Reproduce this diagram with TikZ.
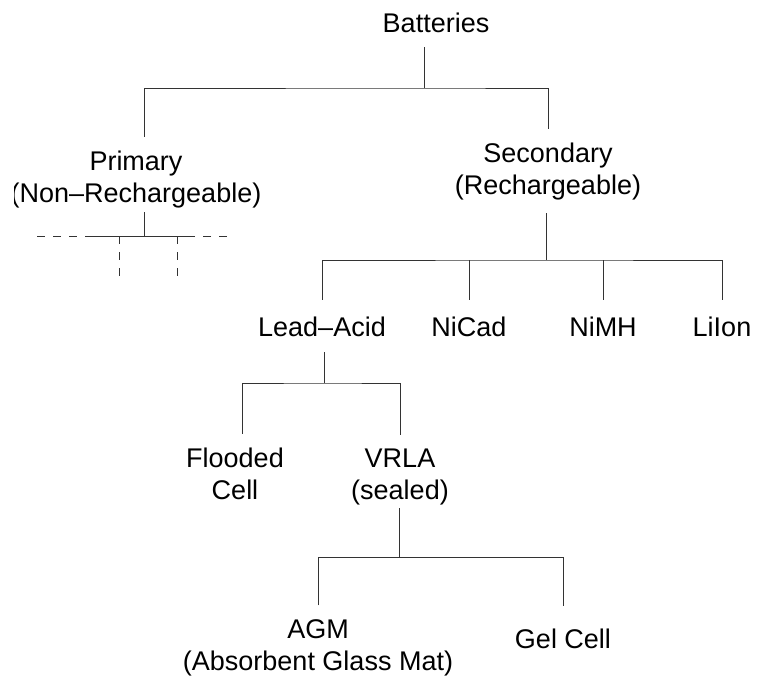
\documentclass[tikz,border=0pt]{standalone}
\usepackage{fontspec}
\setmainfont{Liberation Sans}

\begin{document}
\begin{tikzpicture}[x=1pt,y=-1pt,
    every node/.style={font=\fontsize{27}{32}\selectfont,inner sep=0pt,align=center,text depth=0pt},
    link/.style={draw=black!80,line width=0.9pt},
    faint/.style={link,dash pattern=on 8pt off 8pt}]
    \useasboundingbox (0,0) rectangle (760,678);
    \clip (14,0) rectangle (760,678);

    \node (bat) [anchor=base]  at (436,32)    {Batteries};
    \node (pri) [anchor=south] at (136,203)   {Primary\\(Non--Rechargeable)};
    \node (sec) [anchor=south] at (548,195)   {Secondary\\(Rechargeable)};
    \node (lea) [anchor=base]  at (322,336.5) {Lead--Acid};
    \node (nic) [anchor=base]  at (469,336.5) {NiCad};
    \node (nim) [anchor=base]  at (603,336.5) {NiMH};
    \node (lio) [anchor=base]  at (722,336.5) {LiIon};
    \node (flo) [anchor=south] at (235,500)   {Flooded\\Cell};
    \node (vrl) [anchor=south] at (400,500)   {VRLA\\(sealed)};
    \node (agm) [anchor=south] at (318,671)   {AGM\\(Absorbent Glass Mat)};
    \node (gel) [anchor=base]  at (563,648)   {Gel Cell};

    % junctions
    \coordinate (t1) at (424,88);
    \coordinate (p0) at (144,0);
    \coordinate (p1) at (144,236);
    \coordinate (s1) at (546,260);
    \coordinate (l1) at (324,383);
    \coordinate (f1) at (242,383);
    \coordinate (v1) at (399,557);

    \draw[link,shorten <=15pt] (bat.south -| t1) -- (t1);
    \draw[link,shorten <=14.5pt,shorten >=14.5pt] (pri.north -| p0) |- (t1) -| (sec.north);

    % primary: other branches left out
    \draw[link,shorten <=9pt] (pri.south -| p0) -- (p1);
    \draw[link] ([xshift=-57pt]p1) -- ([xshift=46pt]p1);
    \draw[faint] ([xshift=-107pt]p1) -- ([xshift=-57pt]p1);
    \draw[faint] ([xshift=83pt]p1) -- ([xshift=46pt]p1);
    \draw[faint] ([xshift=-25pt]p1) -- ++(0,41);
    \draw[faint] ([xshift=33pt]p1) -- ++(0,41);

    \draw[link,shorten <=18pt] (sec.south -| s1) -- (s1);
    \draw[link,shorten <=17pt,shorten >=17pt] (lea.north) |- (s1) -| (lio.north);
    \draw[link,shorten >=17pt] (s1 -| nic) -- (nic.north);
    \draw[link,shorten >=17pt] (s1 -| nim) -- (nim.north);

    \draw[link,shorten <=15.5pt] (lea.south -| l1) -- (l1);
    \draw[link,shorten <=14.5pt,shorten >=14.5pt] (flo.north -| f1) |- (l1) -| (vrl.north);

    \draw[link,shorten <=8pt] (vrl.south -| v1) -- (v1);
    \draw[link,shorten <=14.5pt,shorten >=22pt] (agm.north) |- (v1) -| (gel.north);
\end{tikzpicture}
\end{document}
